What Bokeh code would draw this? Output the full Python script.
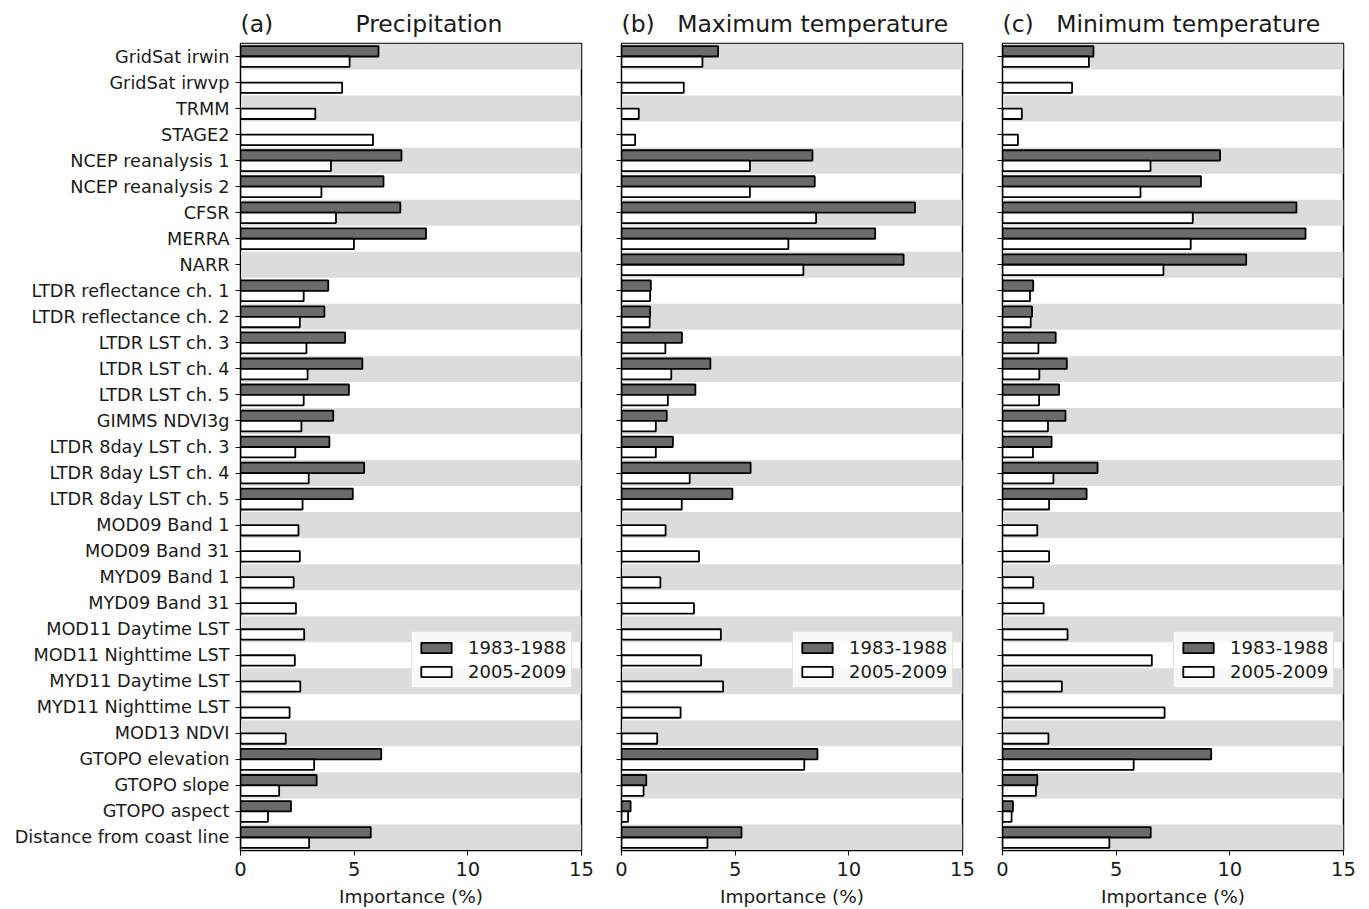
from bokeh.plotting import figure
from bokeh.models import Range1d, FixedTicker, Legend, LegendItem
from bokeh.layouts import row
from bokeh.embed import file_html
from bokeh.resources import INLINE

nan = float("nan")

categories = [
    "GridSat irwin", "GridSat irwvp", "TRMM", "STAGE2", "NCEP reanalysis 1",
    "NCEP reanalysis 2", "CFSR", "MERRA", "NARR", "LTDR reflectance ch. 1",
    "LTDR reflectance ch. 2", "LTDR LST ch. 3", "LTDR LST ch. 4", "LTDR LST ch. 5",
    "GIMMS NDVI3g", "LTDR 8day LST ch. 3", "LTDR 8day LST ch. 4", "LTDR 8day LST ch. 5",
    "MOD09 Band 1", "MOD09 Band 31", "MYD09 Band 1", "MYD09 Band 31",
    "MOD11 Daytime LST", "MOD11 Nighttime LST", "MYD11 Daytime LST",
    "MYD11 Nighttime LST", "MOD13 NDVI", "GTOPO elevation", "GTOPO slope",
    "GTOPO aspect", "Distance from coast line",
]

series_names = ["1983-1988", "2005-2009"]

precip_1983 = [6.07, nan, nan, nan, 7.08, 6.29, 7.03, 8.16, nan, 3.86, 3.69, 4.60, 5.36, 4.77,
               4.08, 3.91, 5.44, 4.94, nan, nan, nan, nan, nan, nan, nan, nan, nan,
               6.19, 3.35, 2.22, 5.73]
precip_2005 = [4.80, 4.47, 3.29, 5.83, 3.98, 3.56, 4.20, 4.99, nan, 2.78, 2.61, 2.90, 2.95, 2.78,
               2.68, 2.41, 3.00, 2.73, 2.55, 2.61, 2.34, 2.44, 2.80, 2.39, 2.63, 2.16, 1.99,
               3.24, 1.70, 1.21, 3.02]

tmax_1983 = [4.25, nan, nan, nan, 8.40, 8.50, 12.91, 11.16, 12.41, 1.29, 1.26, 2.66, 3.91, 3.25,
             1.99, 2.26, 5.68, 4.88, nan, nan, nan, nan, nan, nan, nan, nan, nan,
             8.62, 1.09, 0.40, 5.28]
tmax_2005 = [3.56, 2.74, 0.76, 0.60, 5.65, 5.65, 8.56, 7.34, 8.00, 1.26, 1.24, 1.93, 2.19, 2.04,
             1.51, 1.51, 3.00, 2.65, 1.94, 3.41, 1.71, 3.19, 4.37, 3.50, 4.47, 2.60, 1.57,
             8.04, 0.97, 0.29, 3.78]

tmin_1983 = [4.00, nan, nan, nan, 9.57, 8.73, 12.93, 13.33, 10.72, 1.35, 1.30, 2.34, 2.83, 2.49,
             2.77, 2.16, 4.18, 3.70, nan, nan, nan, nan, nan, nan, nan, nan, nan,
             9.18, 1.53, 0.46, 6.52]
tmin_2005 = [3.80, 3.06, 0.85, 0.68, 6.51, 6.07, 8.37, 8.28, 7.08, 1.21, 1.24, 1.58, 1.62, 1.61,
             2.00, 1.34, 2.24, 2.05, 1.53, 2.05, 1.35, 1.81, 2.86, 6.57, 2.61, 7.13, 2.02,
             5.77, 1.47, 0.40, 4.70]

x_ticks = [0, 5, 10, 15]
x_label = "Importance (%)"

FONT = "DejaVu Sans"
TXT = "#1a1a1a"
DARK = "#6b6b6b"
BAND = "#dcdcdc"
N = len(categories)
idx = list(range(N))
NB = "\u00a0"


def make_panel(letter, title, gap, v_old, v_new, show_labels, width, bl, br):
    p = figure(width=width, height=909, x_range=Range1d(0, 15),
               y_range=Range1d(N - 0.5, -0.5), output_backend="svg",
               toolbar_location=None, min_border_left=bl, min_border_right=br,
               min_border_top=43, min_border_bottom=59)
    p.background_fill_color = "white"
    p.border_fill_color = "white"
    p.outline_line_color = "black"
    p.outline_line_width = 1.5
    p.grid.visible = False

    p.title.text = letter + NB * gap + title
    p.title.align = "left"
    p.title.text_font = FONT
    p.title.text_font_size = "23.5px"
    p.title.text_font_style = "normal"
    p.title.text_color = TXT
    p.title.text_line_height = 1.0
    p.title.standoff = 11
    p.title.offset = 0

    band_rows = [i for i in idx if i % 2 == 0]
    p.hbar(y=band_rows, left=0, right=15, height=1.0, fill_color=BAND,
           line_color=None, level="underlay")

    r_old = p.hbar(y=[i - 0.2 for i in idx], left=0, right=v_old, height=0.4,
                   fill_color=DARK, line_color="black", line_width=1.8)
    r_new = p.hbar(y=[i + 0.2 for i in idx], left=0, right=v_new, height=0.4,
                   fill_color="white", line_color="black", line_width=1.8)

    legend = Legend(items=[LegendItem(label=series_names[0], renderers=[r_old]),
                           LegendItem(label=series_names[1], renderers=[r_new])],
                    location=(171, 162))
    legend.label_text_font = FONT
    legend.label_text_font_size = "18px"
    legend.label_text_color = TXT
    legend.glyph_width = 38
    legend.glyph_height = 13
    legend.label_height = 21
    legend.label_standoff = 13
    legend.padding = 5
    legend.spacing = 3
    legend.margin = 0
    legend.border_line_color = "#cccccc"
    legend.border_line_width = 1
    legend.background_fill_color = "white"
    legend.background_fill_alpha = 0.8
    p.add_layout(legend, "center")

    xa = p.xaxis[0]
    xa.ticker = FixedTicker(ticks=x_ticks)
    xa.minor_tick_line_color = None
    xa.major_tick_in = 0
    xa.major_tick_out = 5
    xa.major_tick_line_color = "black"
    xa.axis_line_color = "black"
    xa.major_label_text_font = FONT
    xa.major_label_text_font_size = "19.5px"
    xa.major_label_text_line_height = 1.0
    xa.major_label_text_color = TXT
    xa.major_label_standoff = 6
    xa.axis_label = x_label
    xa.axis_label_text_font = FONT
    xa.axis_label_text_font_size = "18.5px"
    xa.axis_label_text_line_height = 1.0
    xa.axis_label_text_font_style = "normal"
    xa.axis_label_text_color = TXT
    xa.axis_label_standoff = 7

    ya = p.yaxis[0]
    ya.ticker = FixedTicker(ticks=idx)
    ya.minor_tick_line_color = None
    ya.major_tick_in = 0
    ya.major_tick_out = 5
    ya.major_tick_line_color = "black"
    ya.axis_line_color = "black"
    if show_labels:
        ya.major_label_overrides = {i: categories[i] for i in idx}
    else:
        ya.major_label_overrides = {i: "" for i in idx}
    ya.major_label_text_font = FONT
    ya.major_label_text_font_size = "17.7px"
    ya.major_label_text_color = TXT
    ya.major_label_standoff = 6
    return p


pa = make_panel("(a)", "Precipitation", 11, precip_1983, precip_2005, True, 601, 240, 20)
pb = make_panel("(b)", "Maximum temperature", 3, tmax_1983, tmax_2005, False, 381, 20, 20)
pc = make_panel("(c)", "Minimum temperature", 3, tmin_1983, tmin_2005, False, 387, 20, 26)

layout = row(pa, pb, pc)
open("out.html", "w").write(file_html(layout, INLINE))
